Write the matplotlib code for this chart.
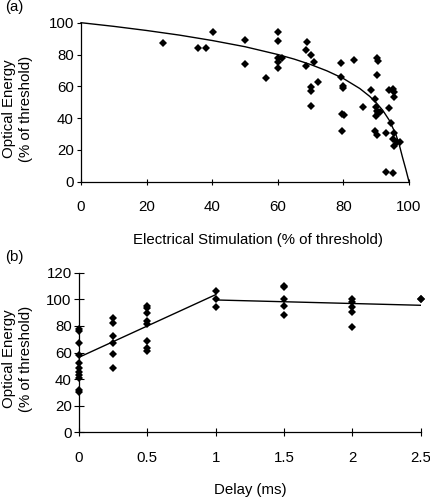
import numpy as np
import matplotlib
matplotlib.use("Agg")
import matplotlib.pyplot as plt

plt.rcParams['font.family'] = ['Liberation Sans', 'DejaVu Sans']
plt.rcParams['font.size'] = 10.8

# panel (a): electrical stimulation vs optical energy
elec_x = [25.1, 35.8, 38.0, 40.2, 50.1, 50.1, 56.4, 60.1, 60.1, 60.1, 60.1, 60.1,
          61.2, 68.9, 68.7, 70.0, 68.7, 71.0, 72.2, 70.0, 70.0, 70.0, 79.2, 79.4,
          79.8, 79.8, 79.5, 80.2, 79.5, 83.1, 88.3, 85.9, 90.1, 90.4, 90.1, 89.7,
          89.9, 90.1, 90.7, 89.9, 91.2, 89.6, 90.1, 94.0, 95.0, 95.5, 95.4, 93.9,
          94.5, 93.0, 95.3, 95.0, 95.5, 97.3, 96.2, 93.0, 95.0]
elec_y = [87.2, 84.1, 84.1, 94.1, 88.9, 73.8, 65.4, 93.9, 88.7, 77.6, 75.1, 71.5,
          77.6, 87.8, 83.0, 79.5, 73.0, 75.1, 62.7, 59.3, 57.0, 47.4, 74.6, 66.0,
          60.2, 58.7, 42.8, 42.1, 31.9, 76.7, 57.7, 46.8, 78.0, 75.9, 66.9, 52.0,
          47.2, 44.7, 43.4, 41.3, 44.0, 31.9, 29.6, 57.7, 58.1, 53.5, 56.4, 46.5,
          37.1, 30.4, 30.4, 26.6, 22.6, 24.7, 24.7, 6.1, 5.7]
fit_a_x = [0, 10, 20, 30, 40, 50, 60, 65, 70, 75, 80, 85, 88, 90, 92, 94, 96, 97, 98, 99, 100]
fit_a_y = [100, 97.7, 95.1, 92.2, 88.8, 84.9, 80.0, 77.1, 73.7, 69.7, 64.9, 58.6,
           53.7, 49.7, 44.9, 38.6, 29.7, 23.5, 15.5, 8.0, 0]

# panel (b): delay vs optical energy
delay_groups = [0, 0.25, 0.5, 1, 1.5, 2, 2.5]
delay_vals = [
    [78, 76, 67, 58, 52, 48, 45, 43, 41, 32, 30],
    [86, 82, 72.5, 67, 59, 48],
    [95, 93.5, 89.5, 83.5, 81.5, 68.5, 63.5, 61],
    [106.5, 100, 94],
    [110, 109, 100, 95, 88],
    [100, 98, 94.5, 90.5, 79.5],
    [100.5, 100],
]
fit_b1_x = [0, 1]
fit_b1_y = [56.4, 103.5]
fit_b2_x = [1, 2.5]
fit_b2_y = [99.5, 95.5]

W, H = 431, 497
fig = plt.figure(figsize=(W / 100, H / 100), dpi=100)

def px_axes(left, right, top, bottom):
    return fig.add_axes([left / W, 1 - bottom / H, (right - left) / W, (bottom - top) / H])

ax1 = px_axes(81, 409, 22.7, 181.7)
ax2 = px_axes(79, 420.7, 272.7, 432.3)

mk = dict(marker='D', ms=4.4, color='black', linestyle='none', markeredgewidth=0)

ax1.plot(elec_x, elec_y, **mk, clip_on=False)
ax1.plot(fit_a_x, fit_a_y, color='black', lw=1.0, clip_on=False)
ax1.set_xlim(0, 100)
ax1.set_ylim(0, 100)
ax1.set_xticks(np.arange(0, 101, 20))
ax1.set_yticks(np.arange(0, 101, 20))
ax1.tick_params(axis='x', direction='inout', length=4.8, width=0.8, pad=11)
ax1.tick_params(axis='y', direction='out', length=3.1, width=0.8, pad=2)
ax1.set_xlabel('Electrical Stimulation (% of threshold)', va='top')
ax1.xaxis.set_label_coords(0.54, -0.32)
ax1.set_ylabel('Optical Energy\n(% of threshold)', va='center', linespacing=1.25)
ax1.yaxis.set_label_coords(-0.194, 0.457)

xs, ys = [], []
for g, vals in zip(delay_groups, delay_vals):
    xs += [g] * len(vals)
    ys += vals
ax2.plot(xs, ys, **mk, clip_on=False)
ax2.plot(fit_b1_x, fit_b1_y, color='black', lw=1.0)
ax2.plot(fit_b2_x, fit_b2_y, color='black', lw=1.0)
ax2.set_xlim(0, 2.5)
ax2.set_ylim(0, 120)
ax2.set_xticks([0, 0.5, 1, 1.5, 2, 2.5])
ax2.set_xticklabels(['0', '0.5', '1', '1.5', '2', '2.5'])
ax2.set_yticks(np.arange(0, 121, 20))
ax2.tick_params(axis='x', direction='inout', length=5.5, width=0.8, pad=11)
ax2.tick_params(axis='y', direction='inout', length=6.5, width=0.8, pad=2)
ax2.set_xlabel('Delay (ms)', va='top')
ax2.xaxis.set_label_coords(0.5, -0.32)
ax2.set_ylabel('Optical Energy\n(% of threshold)', va='center', linespacing=1.25)
ax2.yaxis.set_label_coords(-0.18, 0.462)

for ax in (ax1, ax2):
    for s in ('top', 'right'):
        ax.spines[s].set_visible(False)
    for s in ('left', 'bottom'):
        ax.spines[s].set_linewidth(0.9)

fig.text(5 / W, 1 - 7 / H, '(a)', ha='left', va='center')
fig.text(5 / W, 1 - 257 / H, '(b)', ha='left', va='center')

fig.savefig('out.png', dpi=100)
